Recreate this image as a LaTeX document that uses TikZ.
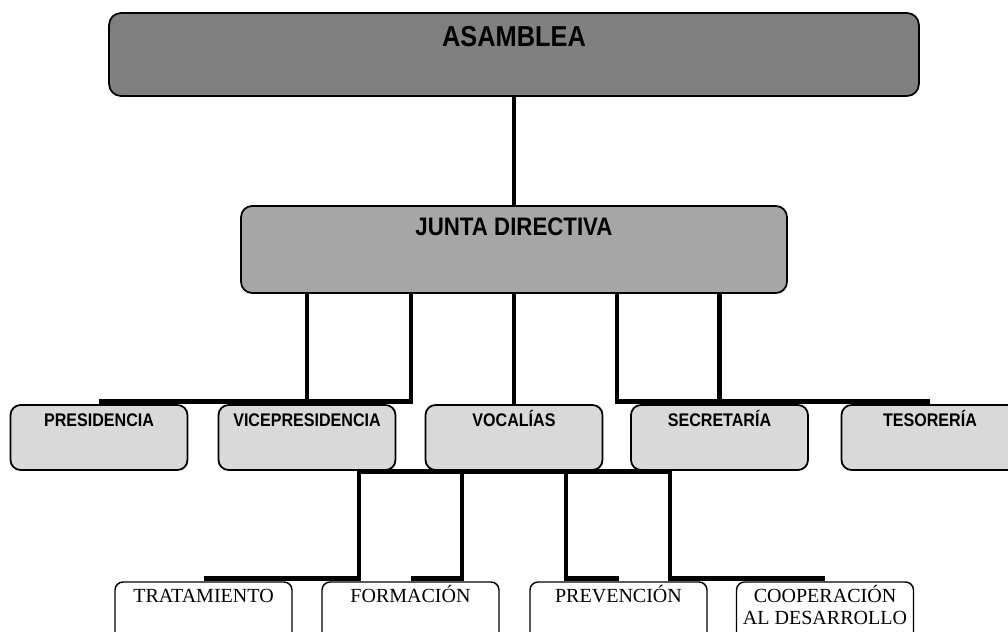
\documentclass[tikz,border=0pt]{standalone}
\usepackage{fontspec}
\setmainfont{Liberation Serif}
\newfontfamily\narrowsans[FakeStretch=0.88]{Liberation Sans}
\usetikzlibrary{calc,backgrounds}

\definecolor{asmgray}{HTML}{808080}
\definecolor{jdgray}{HTML}{A6A6A6}
\definecolor{areagray}{HTML}{D9D9D9}

\tikzset{
  box/.style={draw, line width=1pt, inner sep=0pt, outer sep=0pt},
  asmbox/.style={box, fill=asmgray, minimum width=16.2cm, minimum height=1.66cm, rounded corners=0.24cm},
  jdbox/.style={box, fill=jdgray, minimum width=10.92cm, minimum height=1.74cm, rounded corners=0.22cm},
  areabox/.style={box, fill=areagray, minimum width=3.54cm, minimum height=1.3cm, rounded corners=0.2cm},
  taskbox/.style={box, fill=white, line width=0.8pt, minimum width=3.54cm, minimum height=1.2cm, rounded corners=0.16cm},
  asmtext/.style={anchor=base, yshift=-0.66cm, font=\narrowsans\bfseries\fontsize{16.4}{19}\selectfont},
  jdtext/.style={anchor=base, yshift=-0.58cm, font=\narrowsans\bfseries\fontsize{14.4}{17}\selectfont},
  areatext/.style={anchor=base, yshift=-0.42cm, font=\narrowsans\bfseries\fontsize{10.4}{12}\selectfont},
  tasktext/.style={anchor=base, yshift=-0.40cm, align=center, font=\fontsize{11.4}{12.5}\selectfont},
  tasktwo/.style={tasktext, yshift=-0.44cm},
  link/.style={line width=2.8pt}
}

\begin{document}
\begin{tikzpicture}[x=0.02cm, y=-0.02cm]
\useasboundingbox (0,0) rectangle (1008,632);

\node[asmbox, label={[asmtext]north:ASAMBLEA}] (asm) at (514,54.5) {};
\node[jdbox, label={[jdtext]north:JUNTA DIRECTIVA}] (jd) at (514,249.5) {};

\foreach \name/\x/\txt in {pres/99/PRESIDENCIA, vice/307/VICEPRESIDENCIA, voc/514/VOCALÍAS, sec/719.5/SECRETARÍA, tes/930/TESORERÍA}
  \node[areabox, label={[areatext]north:\txt}] (\name) at (\x,437.5) {};

\node[taskbox, label={[tasktext]north:TRATAMIENTO}] (trat) at (203.5,612) {};
\node[taskbox, label={[tasktext]north:FORMACIÓN}] (form) at (410.5,612) {};
\node[taskbox, label={[tasktext]north:PREVENCIÓN}] (prev) at (618.5,612) {};
\node[taskbox, label={[tasktwo]north:{COOPERACIÓN\\AL DESARROLLO}}] (coop) at (825,612) {};

\begin{scope}[on background layer]
\draw[link] (asm.south) -- (jd.north);
% junta -> areas
\draw[link] (jd.south -| vice.north) -- (vice.north);
\draw[link] ($(jd.south)+(-103,0)$) |- ([yshift=2pt]pres.north);
\draw[link] (jd.south) -- (voc.north);
\draw[link] (jd.south -| sec.north) -- (sec.north);
\draw[link] ($(jd.south)+(103,0)$) |- ([yshift=2pt]tes.north);
% vocalias -> comisiones
\foreach \kid/\col in {trat/359, form/462, prev/566, coop/670}
  \draw[link] ([yshift=-1pt]voc.south) -| (\col,520) |- ([yshift=2pt]\kid.north);
\end{scope}
\end{tikzpicture}
\end{document}
